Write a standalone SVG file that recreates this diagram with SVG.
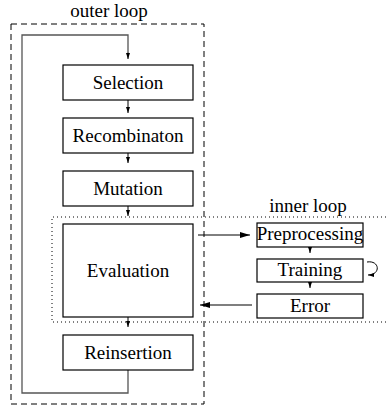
<svg xmlns="http://www.w3.org/2000/svg" width="386" height="406" viewBox="0 0 386 406">
<style>
text{font-family:"Liberation Serif","Times New Roman",serif;font-size:19px;fill:#000;text-anchor:middle}
.box{fill:#fff;stroke:#000;stroke-width:1.2}
.ln{fill:none;stroke:#000;stroke-width:1}
.gl{fill:none;stroke:#555;stroke-width:1.3}
.dash{fill:none;stroke:#000;stroke-width:1;stroke-dasharray:6 4}
.dot{fill:none;stroke:#000;stroke-width:1;stroke-dasharray:1 3}
</style>
<defs>
<marker id="ah" viewBox="0 0 6 4" refX="6" refY="2" markerWidth="6" markerHeight="4" markerUnits="userSpaceOnUse" orient="auto"><path d="M0,0 L6,2 L0,4 Z" fill="#000"/></marker>
<marker id="ahb" viewBox="0 0 10 6" refX="10" refY="3" markerWidth="10" markerHeight="6" markerUnits="userSpaceOnUse" orient="auto"><path d="M0,0 L10,3 L0,6 Z" fill="#000"/></marker>
</defs>
<g id="outer-loop">
<rect class="dash" x="11" y="24" width="193" height="380"/>
<text x="109" y="17">outer loop</text>
</g>
<g id="inner-loop">
<path class="dot" d="M390,217 H52 V322 H390"/>
<text x="308" y="212">inner loop</text>
</g>
<g id="connectors">
<path class="gl" d="M128,370 V393 H22 V35 H128 V52"/>
<path class="ln" d="M128,52 V59" marker-end="url(#ah)"/>
<path class="ln" d="M128,100 V113" marker-end="url(#ah)"/>
<path class="ln" d="M128,153 V163" marker-end="url(#ah)"/>
<path class="ln" d="M128,206 V216" marker-end="url(#ah)"/>
<path class="ln" d="M128,317 V327" marker-end="url(#ah)"/>
<path class="ln" d="M198,235 H250" marker-end="url(#ahb)"/>
<path class="gl" d="M252,305 H200" marker-end="url(#ahb)"/>
<path class="ln" d="M310,247 V253" marker-end="url(#ah)"/>
<path class="ln" d="M310,282 V288" marker-end="url(#ah)"/>
<path class="ln" stroke-width="1.2" d="M367,262 C380,260 381,275 368,275" marker-end="url(#ah)"/>
</g>
<g id="selection"><rect class="box" x="63" y="65" width="130" height="35"/><text x="128" y="89">Selection</text></g>
<g id="recombination"><rect class="box" x="63" y="118" width="130" height="35"/><text x="128" y="142">Recombinaton</text></g>
<g id="mutation"><rect class="box" x="63" y="171" width="130" height="35"/><text x="128" y="195">Mutation</text></g>
<g id="evaluation"><rect class="box" x="63" y="224" width="130" height="93"/><text x="128" y="277">Evaluation</text></g>
<g id="reinsertion"><rect class="box" x="63" y="335" width="130" height="35"/><text x="128" y="359">Reinsertion</text></g>
<g id="preprocessing"><rect class="box" x="257" y="223" width="106" height="24"/><text x="310" y="240">Preprocessing</text></g>
<g id="training"><rect class="box" x="257" y="259" width="106" height="23"/><text x="310" y="276">Training</text></g>
<g id="error"><rect class="box" x="257" y="294" width="106" height="24"/><text x="310" y="312">Error</text></g>
</svg>
